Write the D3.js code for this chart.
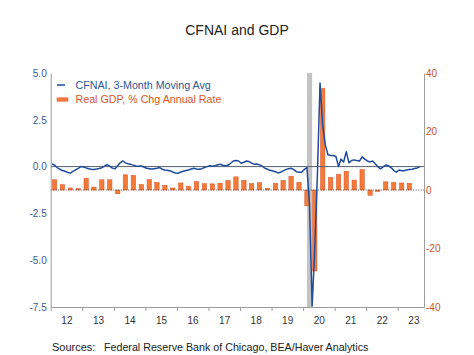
<!DOCTYPE html>
<html><head><meta charset="utf-8">
<script src="https://cdn.jsdelivr.net/npm/d3@7"></script>
<style>body{margin:0;background:#fff}svg{display:block}text{font-family:"Liberation Sans",Arial,sans-serif}</style>
</head><body><svg id="c" width="474" height="355"></svg>
<script>
// ---- data ----
const title = "CFNAI and GDP";
const seriesNames = ["CFNAI, 3-Month Moving Avg", "Real GDP, % Chg Annual Rate"];
const cfnaiStart = [2012, 0]; // January 2012, monthly
const cfnai = [
  0.14, 0.08, -0.05, -0.14, -0.21, -0.25, -0.31, -0.35, -0.26, -0.17, -0.09, 0.0,
  -0.02, -0.07, -0.11, -0.14, -0.15, -0.13, -0.10, -0.06, 0.03, 0.11, 0.03, -0.08,
  -0.12, 0.06, 0.20, 0.30, 0.20, 0.15, 0.12, 0.08, 0.03, 0.02, 0.03, -0.02,
  -0.09, -0.11, -0.13, -0.11, -0.09, -0.05, -0.14, -0.18, -0.20, -0.23, -0.29, -0.34,
  -0.36, -0.29, -0.25, -0.21, -0.18, -0.13, -0.09, -0.13, -0.14, -0.11, -0.05, 0.0,
  0.05, 0.02, 0.05, 0.09, 0.13, 0.07, 0.04, 0.07, 0.18, 0.30, 0.32, 0.30,
  0.18, 0.23, 0.30, 0.27, 0.18, 0.13, 0.14, 0.09, 0.02, -0.09, -0.14, -0.20,
  -0.23, -0.27, -0.34, -0.30, -0.23, -0.16, -0.11, -0.09, -0.16, -0.27, -0.30, -0.30,
  -0.15, -0.05, -2.0, -7.45, -4.4, -0.4, 4.47, 2.2, 1.15, 0.63, 0.59, 0.59,
  0.54, 0.0, 0.40, 0.25, 0.80, 0.20, 0.33, 0.36, 0.32, 0.30, 0.52, 0.40,
  0.30, 0.25, 0.30, 0.15, 0.0, -0.12, -0.02, 0.08, 0.05, -0.05, -0.20, -0.30,
  -0.18, -0.22, -0.22, -0.18, -0.16, -0.14, -0.10, -0.07, 0.0
];
const gdpStart = [2012, 1]; // 2012 Q1, quarterly
const gdp = [
  3.5, 1.8, 0.7, 0.5,
  4.0, 1.0, 3.5, 3.5,
  -1.3, 5.2, 5.0, 1.9,
  3.6, 2.6, 1.6, 0.7,
  2.4, 1.3, 2.9, 2.2,
  2.1, 2.3, 3.2, 4.5,
  3.3, 2.2, 2.5, 0.6,
  2.3, 3.3, 4.7, 2.6,
  -5.4, -27.7, 34.7, 4.3,
  5.3, 6.4, 3.4, 7.0,
  -1.8, -0.5, 2.8, 2.6,
  2.4, 2.3
];
const recession = ["2020-02-15", "2020-04-15"];
const leftTicks = [-7.5, -5.0, -2.5, 0.0, 2.5, 5.0];
const rightTicks = [-40, -20, 0, 20, 40];
const yearTicks = [2012, 2013, 2014, 2015, 2016, 2017, 2018, 2019, 2020, 2021, 2022, 2023];
const sourceLabel = "Sources:";
const sourceText = "Federal Reserve Bank of Chicago, BEA/Haver Analytics";

// ---- layout ----
const svg = d3.select("#c");
const L = 50.7, R = 424, T = 73, B = 307;
const BLUE = "#1d4c9c", ORANGE = "#f47a38", ORANGE_DK = "#d9532a", GRAY = "#9c9c9c";

const x = d3.scaleTime().domain([new Date(2012, 0, 1), new Date(2023, 10, 1)]).range([L, R]);
const yL = d3.scaleLinear().domain([-7.5, 5]).range([B, T]);
const yR = d3.scaleLinear().domain([-40, 40]).range([B, T]);

const cfData = cfnai.map((v, i) => ({d: new Date(cfnaiStart[0], cfnaiStart[1] + i, 15), v}));
const gdpData = gdp.map((v, i) => ({d: new Date(gdpStart[0], (gdpStart[1] - 1 + i) * 3 + 1, 15), v}));

// title
svg.append("text").attr("x", 237).attr("y", 35).attr("text-anchor", "middle")
  .attr("font-size", 14).attr("fill", "#222").text(title);

// recession shading
svg.append("rect").attr("x", x(new Date(recession[0]))).attr("y", T)
  .attr("width", x(new Date(recession[1])) - x(new Date(recession[0]))).attr("height", B - T)
  .attr("fill", "#c3c3c3");

// bars
const bw = 4.4;
svg.append("g").selectAll("rect").data(gdpData).join("rect")
  .attr("x", d => x(d.d) - bw / 2)
  .attr("y", d => Math.min(yR(d.v), yR(0)))
  .attr("width", bw)
  .attr("height", d => Math.abs(yR(d.v) - yR(0)))
  .attr("fill", ORANGE).attr("stroke", ORANGE_DK).attr("stroke-width", 0.5);

// zero lines
svg.append("line").attr("x1", L).attr("x2", R).attr("y1", yL(0)).attr("y2", yL(0))
  .attr("stroke", "#55606e").attr("stroke-width", 1);
svg.append("line").attr("x1", L).attr("x2", R).attr("y1", yR(0)).attr("y2", yR(0))
  .attr("stroke", "#555").attr("stroke-width", 1).attr("stroke-dasharray", "1,1.5");

// CFNAI line
svg.append("path").datum(cfData)
  .attr("d", d3.line().x(d => x(d.d)).y(d => yL(d.v)))
  .attr("fill", "none").attr("stroke", BLUE).attr("stroke-width", 1.5).attr("stroke-linejoin", "round");

// axes
const gL = svg.append("g").attr("transform", `translate(${L},0)`)
  .call(d3.axisLeft(yL).tickValues(leftTicks).tickFormat(d => d.toFixed(1)).tickSize(0).tickPadding(4));
gL.select(".domain").attr("stroke", GRAY);
gL.selectAll("text").attr("font-size", 10).attr("fill", "#3a5a93").attr("font-family", "Liberation Sans, Arial, sans-serif");

const gR = svg.append("g").attr("transform", `translate(${R},0)`)
  .call(d3.axisRight(yR).tickValues(rightTicks).tickFormat(d => String(d)).tickSize(0).tickPadding(2));
gR.select(".domain").attr("stroke", GRAY);
gR.selectAll("text").attr("font-size", 10).attr("fill", "#c8552b").attr("font-family", "Liberation Sans, Arial, sans-serif");

const gB = svg.append("g").attr("transform", `translate(0,${B})`)
  .call(d3.axisBottom(x).tickValues(yearTicks.map(y => new Date(y, 0, 1))).tickFormat("").tickSize(4).tickSizeOuter(0));
gB.select(".domain").attr("stroke", GRAY);
gB.selectAll(".tick line").attr("stroke", GRAY);

const gB2 = svg.append("g").attr("transform", `translate(0,${B})`)
  .call(d3.axisBottom(x).tickValues(yearTicks.map(y => new Date(y, 6, 1))).tickFormat(d3.timeFormat("%y")).tickSize(0).tickPadding(10));
gB2.select(".domain").remove();
gB2.selectAll("text").attr("font-size", 10).attr("fill", "#333").attr("font-family", "Liberation Sans, Arial, sans-serif");

// legend
svg.append("line").attr("x1", 57).attr("x2", 65).attr("y1", 85).attr("y2", 85).attr("stroke", BLUE).attr("stroke-width", 1.5);
svg.append("text").attr("x", 75.5).attr("y", 85).attr("dy", "0.35em").attr("font-size", 10.7).attr("fill", "#2f5596").text(seriesNames[0]);
svg.append("rect").attr("x", 57).attr("y", 97.8).attr("width", 11).attr("height", 3.4).attr("fill", ORANGE).attr("stroke", ORANGE_DK).attr("stroke-width", 0.5);
svg.append("text").attr("x", 75.5).attr("y", 99.5).attr("dy", "0.35em").attr("font-size", 10.7).attr("fill", "#d4572b").text(seriesNames[1]);

// sources
svg.append("text").attr("x", 52).attr("y", 351).attr("font-size", 11).attr("fill", "#222").text(sourceLabel);
svg.append("text").attr("x", 104).attr("y", 351).attr("font-size", 10.7).attr("fill", "#222").text(sourceText);
</script></body></html>
